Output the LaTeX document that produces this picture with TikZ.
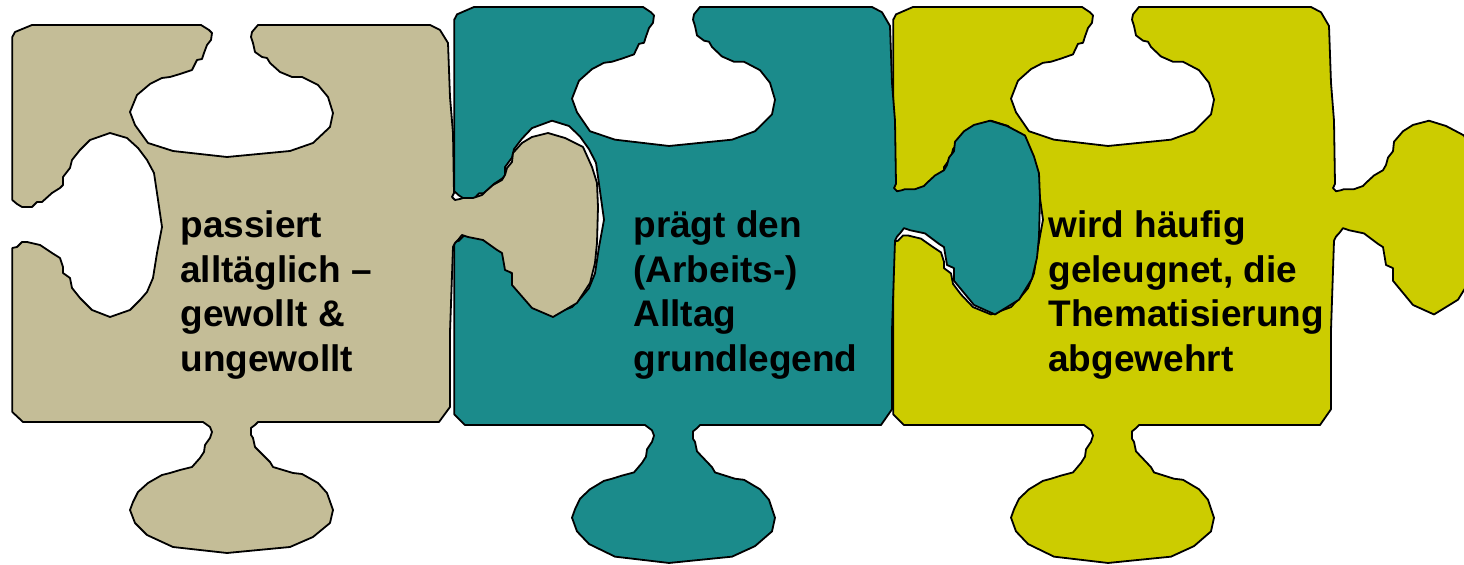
\documentclass[tikz,border=0pt]{standalone}
\usepackage{fontspec}
\setmainfont{Liberation Sans}
\definecolor{pieceTan}{HTML}{C4BD97}
\definecolor{pieceTeal}{HTML}{1B8B8B}
\definecolor{pieceYellow}{HTML}{CCCC00}
\tikzset{
  piece line/.style={draw=black, line width=0.9pt, line join=round},
  lbl/.style={anchor=base west, inner sep=0pt, font=\fontsize{18.5}{22.25}\selectfont\bfseries, text=black},
  puzzle/.pic={
    \path[piece line, fill=#1]
    (12.3,37) -- (15,32) -- (32,25) -- (201,25) -- (209,30) -- (212,33) -- (211,40) -- (207,45) -- (204,53) -- (202,59) -- (197,60) -- (192,70) -- (180,74) -- (170,77) -- (162,78) -- (150,84) -- (137,95) -- (130,112) -- (135,125) -- (148,143) -- (173,151) -- (227,157) -- (290,151) -- (313,143) -- (330,127) -- (333,113) -- (328,97) -- (318,85) -- (302,77) -- (292,77) -- (280,72) -- (270,63) -- (267,58) -- (262,57) -- (255,52) -- (253,43) -- (251,37) -- (252,32) -- (258,25)
    -- (430,25) -- (440,30) -- (448,43) -- (450,97) -- (453,133) -- (454,193)
    -- (452,197) -- (455,200) -- (460,199) -- (463,198) -- (473,198) -- (482,195) -- (485,192) -- (493,185) -- (502,180) -- (505,175) -- (507,168) -- (512,162) -- (513,153) -- (522,143) -- (532,137) -- (548,133) -- (565,138) -- (583,147) -- (592,167) -- (597,183) -- (598,207) -- (597,243) -- (595,263) -- (590,283) -- (577,303) -- (553,317) -- (532,308) -- (512,285) -- (512,273) -- (505,270) -- (502,253) -- (497,250) -- (483,240) -- (473,238) -- (468,237) -- (462,235) -- (458,240) -- (455,243) -- (453,247)
    -- (450,332) -- (450,407) -- (439,422)
    -- (258,422) -- (255,425) -- (251,428) -- (251,435) -- (253,438) -- (255,447) -- (263,455) -- (270,462) -- (273,467) -- (293,473) -- (302,474) -- (318,483) -- (327,493) -- (333,510) -- (330,523) -- (313,537) -- (290,547) -- (227,553) -- (173,547) -- (147,535) -- (135,523) -- (130,510) -- (133,502) -- (138,492) -- (148,483) -- (162,475) -- (170,473) -- (180,470) -- (192,467) -- (200,458) -- (204,452) -- (205,445) -- (210,438) -- (212,432) -- (210,427) -- (203,422)
    -- (23,422) -- (12.3,412)
    -- (12.3,248) -- (17,247) -- (22,242) -- (27,242) -- (40,245) -- (52,253) -- (60,258) -- (63,267) -- (63,273) -- (70,278) -- (72,288) -- (80,298) -- (92,310) -- (110,317) -- (130,310) -- (140,300) -- (147,292) -- (153,278) -- (157,253) -- (162,227) -- (157,193) -- (154,173) -- (147,160) -- (138,148) -- (127,138) -- (110,133) -- (90,140) -- (80,150) -- (72,160) -- (70,168) -- (63,177) -- (63,185) -- (60,188) -- (52,193) -- (42,202) -- (37,202) -- (32,207) -- (22,207) -- (17,204) -- (12.3,200) -- cycle;
  }
}
\begin{document}
\begin{tikzpicture}[x=0.5pt, y=-0.5pt]
  \useasboundingbox (0,0) rectangle (1464,565);
  \clip (0,0) rectangle (1464,565);
  % right piece (yellow)
  \begin{scope}[shift={(881,7)}, yscale=1.053, shift={(0,-25)}]
    \pic[transform shape] {puzzle=pieceYellow};
  \end{scope}
  % middle piece (teal)
  \begin{scope}[shift={(442,7)}, yscale=1.053, shift={(0,-25)}]
    \pic[transform shape] {puzzle=pieceTeal};
  \end{scope}
  % left piece (tan)
  \pic {puzzle=pieceTan};
  % labels
  \node[lbl] (t1) at (180,238) {\begin{tabular}[t]{@{}l@{}}passiert\\alltäglich –\\gewollt \&\\ungewollt\end{tabular}};
  \node[lbl] (t2) at (633,238) {\begin{tabular}[t]{@{}l@{}}prägt den\\(Arbeits-)\\Alltag\\grundlegend\end{tabular}};
  \node[lbl] (t3) at (1048,238) {\begin{tabular}[t]{@{}l@{}}wird häufig\\geleugnet, die\\Thematisierung\\abgewehrt\end{tabular}};
\end{tikzpicture}
\end{document}
